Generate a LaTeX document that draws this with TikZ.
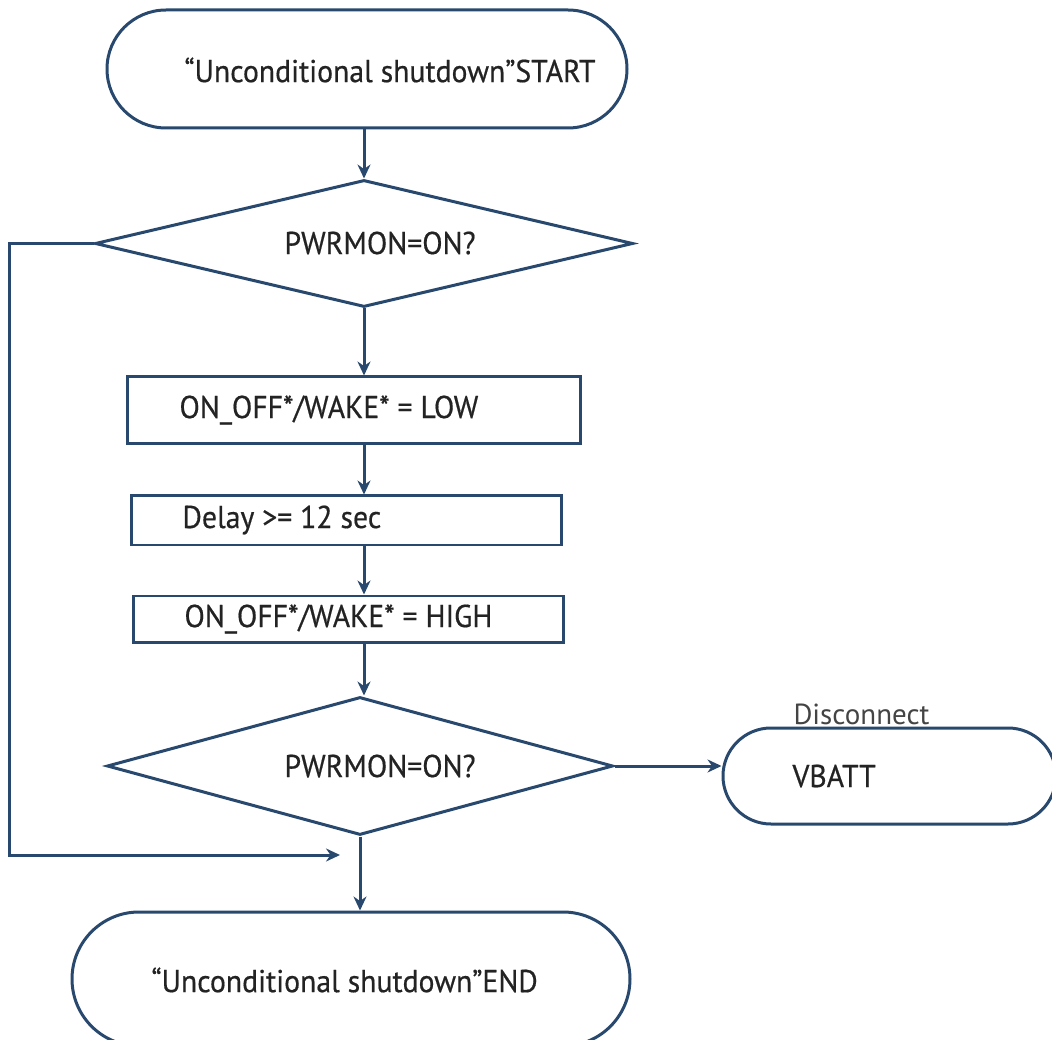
\documentclass[tikz,border=0pt]{standalone}
\usepackage{fontspec}
\setmainfont{PT Sans}[FakeStretch=0.94, FakeBold=0.5]
\newfontfamily\lightfont{PT Sans}
\usetikzlibrary{shapes.geometric,arrows.meta}

\begin{document}
\begin{tikzpicture}[x=0.02cm, y=-0.02cm,
  line width=0.06cm,
  >={Stealth[length=0.28cm,width=0.26cm]},
  terminal/.style={draw=flowblue, rounded corners=#1, inner sep=0pt},
  process/.style={draw=flowblue, rectangle, inner sep=0pt},
  decision/.style={draw=flowblue, diamond, inner sep=0pt},
  flowtext/.style={anchor=west, text=flowink, font=\fontsize{18}{20}\selectfont, inner sep=0pt},
  flow/.style={draw=flowblue, ->}]

\def\px{0.02cm}
\definecolor{flowblue}{RGB}{40,72,110}
\definecolor{flowink}{RGB}{35,35,35}
\useasboundingbox (0,0) rectangle (1052,1040);

% shapes
\node[terminal=59*\px, minimum width=520*\px, minimum height=118*\px] (start) at (367,69) {};
\node[decision, minimum width=538*\px, minimum height=127*\px] (pwr1) at (364,243.5) {};
\node[process, minimum width=453*\px, minimum height=67*\px] (low) at (353.5,410.5) {};
\node[process, minimum width=430*\px, minimum height=49*\px] (delay) at (346,520.5) {};
\node[process, minimum width=430*\px, minimum height=46*\px] (high) at (348,619) {};
\node[decision, minimum width=506*\px, minimum height=138*\px] (pwr2) at (360,766) {};
\node[terminal=48*\px, minimum width=333*\px, minimum height=96*\px] (vbatt) at (889.5,776) {};
\node[terminal=67*\px, minimum width=558*\px, minimum height=134*\px] (end) at (351,979) {};

% texts
\node[flowtext] (starttext) at (183,70) {“Unconditional shutdown”START};
\node[flowtext] (pwr1text) at (283,243) {PWRMON=ON?};
\node[flowtext] (lowtext) at (178,410) {ON\_OFF*/WAKE* = LOW};
\node[flowtext] (delaytext) at (181,520) {Delay >= 12 sec};
\node[flowtext] (hightext) at (183,619) {ON\_OFF*/WAKE* = HIGH};
\node[flowtext] (pwr2text) at (283,766) {PWRMON=ON?};
\node[flowtext] (vbatttext) at (791,776) {VBATT};
\node[flowtext] (endtext) at (150,980) {“Unconditional shutdown”END};
\node[flowtext, font=\lightfont\fontsize{16.5}{18}\selectfont, text=flowink!85] (disctext) at (792,714) {Disconnect};

% connectors
\coordinate (merge) at (340,855);
\draw[flow] (pwr1.north |- start.south) -- (pwr1.north);
\draw[flow] (pwr1.south) -- (pwr1.south |- low.north);
\draw[flow] (pwr1.south |- low.south) -- (pwr1.south |- delay.north);
\draw[flow] (pwr1.south |- delay.south) -- (pwr1.south |- high.north);
\draw[flow] (pwr1.south |- high.south) -- (pwr1.south |- pwr2.north);
\draw[flow] (pwr2.east) -- (pwr2.east -| vbatt.west);
\draw[flow] (pwr1.west) -- ++(-84,0) |- (merge);
\draw[flow] (pwr2.south) -- (pwr2.south |- end.north);

\end{tikzpicture}
\end{document}
